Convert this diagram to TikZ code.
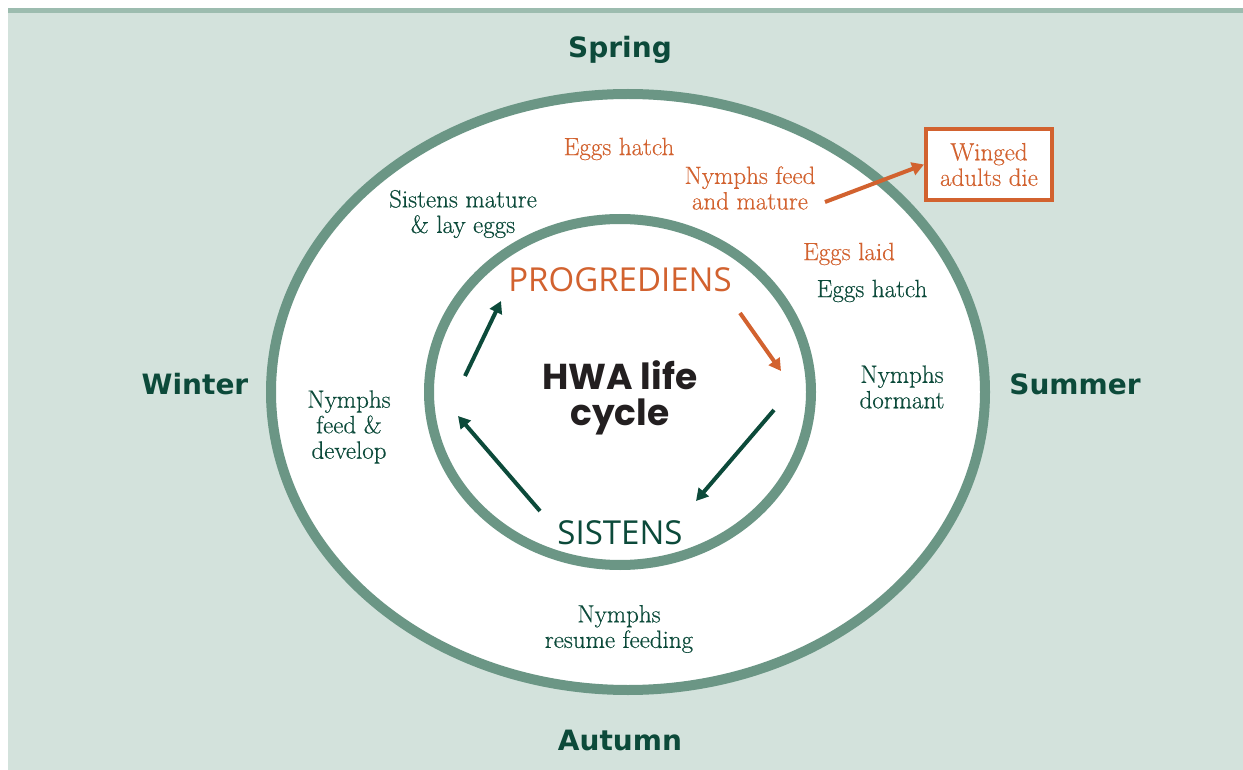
\documentclass[tikz,border=0pt]{standalone}
\usepackage{fontspec}
\newfontfamily\seasonfont{DejaVu Sans}
\newfontfamily\stagefont{Open Sans}
\newfontfamily\titlefont{Poppins}
\newfontfamily\notefont[FakeBold=0.4]{Latin Modern Roman}
\usetikzlibrary{positioning,arrows.meta}

\definecolor{bgpale}{HTML}{D3E2DC}
\definecolor{bgstrip}{HTML}{9CBCAF}
\definecolor{ringgreen}{HTML}{6B9685}
\definecolor{hwadark}{HTML}{0C4A3A}
\definecolor{hwaorange}{HTML}{D2622F}
\definecolor{titleblack}{HTML}{231F20}

\begin{document}
\begin{tikzpicture}[x=1pt,y=-1pt,
    season/.style={font=\seasonfont\bfseries\fontsize{28}{30}\selectfont,text=hwadark},
    note/.style={font=\notefont\fontsize{25}{25.5}\selectfont,align=center,text=hwadark,inner sep=0pt},
    onote/.style={note,text=hwaorange},
    stage/.style={font=\stagefont\fontsize{33}{35}\selectfont,inner sep=0pt},
    ring/.style={draw=ringgreen,line width=10pt,fill=white},
    cycarrow/.style={line width=4pt,-{Triangle[width=13pt,length=12pt]},draw=hwadark}
    ]

   \useasboundingbox (0,0) rectangle (1243,770);
   \fill[bgpale] (8,12) rectangle (1243,770);
   \fill[bgstrip] (8,8) rectangle (1243,13);

   \draw[ring] (628,392) ellipse [x radius=357pt,y radius=298pt];
   \draw[ring] (620,392) ellipse [x radius=191pt,y radius=173pt];

   % seasons
   \node(spring) [season] at (620,50) {Spring};
   \node(winter) [season] at (195,384) {Winter};
   \node(summer) [season] at (1075,384) {Summer};
   \node(autumn) [season] at (620,740) {Autumn};

   % outer ring notes
   \node(hatch1) [onote] at (619,149) {Eggs hatch};
   \node(nymfeed) [onote] at (750,188) {Nymphs feed\\and mature};
   \node(winged) [onote,draw=hwaorange,line width=4pt,fill=white,
      minimum width=126pt,minimum height=71pt] at (989,164.5) {Winged\\adults die};
   \node(sismature) [note] at (463,214) {Sistens mature\\\& lay eggs};
   \node(laid) [onote] at (849,254) {Eggs laid};
   \node(hatch2) [note] at (872,291) {Eggs hatch};
   \node(dormant) [note] at (902,387) {Nymphs\\dormant};
   \node(develop) [note] at (349,427) {Nymphs\\feed \&\\develop};
   \node(resume) [note] at (619,629) {Nymphs\\resume feeding};

   % inner ring
   \node(prog) [stage,text=hwaorange] at (620,280) {PROGREDIENS};
   \node(sis) [stage,text=hwadark] at (620,533) {SISTENS};
   \node(title) [font=\titlefont\bfseries\fontsize{36}{36}\selectfont,align=center,
      text=titleblack] at (620,398) {HWA life\\cycle};

   \coordinate(upS) at (465,376);
   \coordinate(upE) at (501,301);
   \coordinate(downS) at (740,313);
   \coordinate(downE) at (781,371);
   \coordinate(backS) at (774,410);
   \coordinate(backE) at (696,501);
   \coordinate(leftS) at (540,511);
   \coordinate(leftE) at (458,416);
   \coordinate(wingS) at (825,202);

   \draw[cycarrow] (upS) -- (upE);
   \draw[cycarrow,draw=hwaorange] (downS) -- (downE);
   \draw[cycarrow] (backS) -- (backE);
   \draw[cycarrow] (leftS) -- (leftE);
   \draw[cycarrow,draw=hwaorange] (wingS) -- (winged.west);

\end{tikzpicture}
\end{document}
